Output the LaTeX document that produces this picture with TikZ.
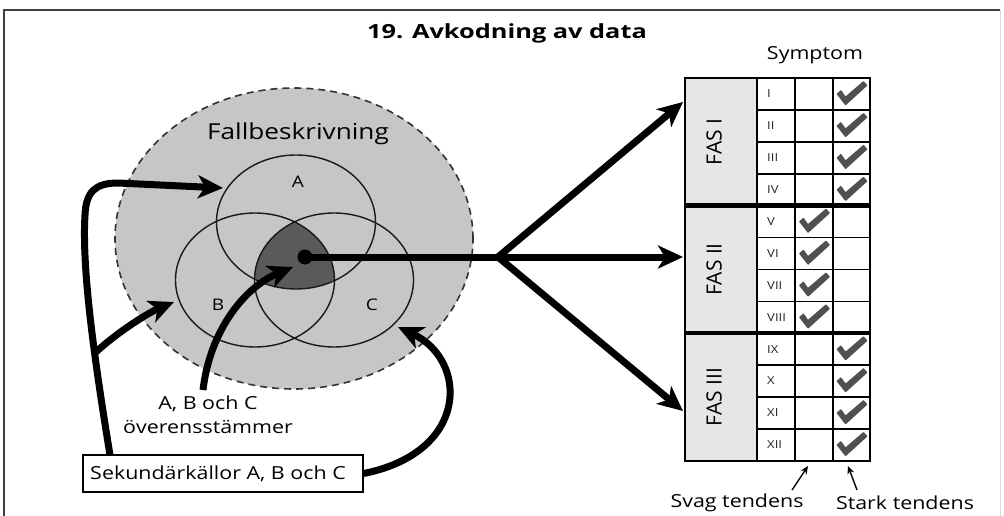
\documentclass[tikz,border=0pt]{standalone}
\usepackage{fontspec}
\setmainfont{Open Sans}
\usetikzlibrary{arrows.meta,calc,shapes.geometric}
\definecolor{bgell}{HTML}{C6C6C6}
\definecolor{darkreg}{HTML}{5A5A5A}
\definecolor{fascell}{HTML}{E6E6E6}
\definecolor{chkcol}{HTML}{505050}
\newcommand{\fs}[1]{\fontsize{#1}{#1}\selectfont}
\begin{document}
\begin{tikzpicture}[x=1pt,y=-1pt,
  txt/.style={inner sep=0pt,xscale=1.19},
  bigarrow/.style={line width=7pt,-{Stealth[length=25pt,width=23pt,inset=7pt]}},
  thinarrow/.style={line width=1.4pt,-{Stealth[length=8pt,width=7pt]}},
  venn/.style={ellipse,draw=black!90,line width=1.4pt,inner sep=0pt,minimum width=159pt,minimum height=134pt},
  grid/.style={draw=black,line width=1.6pt},
  chk/.pic={\fill[chkcol,rounded corners=0.6pt] (-15,0) -- (-10.5,-4) -- (-6,2.5) -- (12,-13) -- (16,-8.5) -- (-6,11.5) -- cycle;}]
\useasboundingbox (0,0) rectangle (1004,516);
\fill[white] (0,0) rectangle (1004,516);
% frame
\draw[line width=2pt,black!75] (4,520) -- (4,10) -- (1000,10);
\draw[line width=1pt,black!15] (1000,10) -- (1000,520);
% title
\node[inner sep=0pt,xscale=1.3,font=\bfseries\fs{19.5}] (title) at (507,33) {19. Avkodning av data};
% case description ellipse
\node[ellipse,fill=bgell,draw=black!80,line width=1.6pt,dash pattern=on 7pt off 5pt,inner sep=0pt,minimum width=358pt,minimum height=301pt] (fall) at (294,238.5) {};
\node[txt,font=\fs{22},anchor=base] (falltxt) at (298,140) {Fallbeskrivning};
% intersection
\begin{scope}
\clip (296,222) ellipse [x radius=79.5pt,y radius=67pt];
\clip (255,280) ellipse [x radius=79.5pt,y radius=67pt];
\fill[darkreg] (334,280) ellipse [x radius=79.5pt,y radius=67pt];
\end{scope}
\node[venn] (ellA) at (296,222) {};
\node[venn] (ellB) at (255,280) {};
\node[venn] (ellC) at (334,280) {};
\node[txt,font=\fs{16}] (labA) at (298,182) {A};
\node[txt,font=\fs{16}] (labB) at (218,305) {B};
\node[txt,font=\fs{16}] (labC) at (372,305) {C};
\node[circle,fill=black,minimum size=15pt,inner sep=0pt] (dot) at (305,257) {};
% fork arrows to table
\coordinate (fork) at (498,257);
\coordinate (t1) at (683,102);
\coordinate (t2) at (683,257);
\coordinate (t3) at (683,411);
\draw[line width=7pt] (dot.center) -- (fork);
\draw[bigarrow] (fork) -- (t1);
\draw[bigarrow] (fork) -- (t2);
\draw[bigarrow] (fork) -- (t3);
% secondary sources
\node[draw=black,line width=1.5pt,minimum width=280pt,minimum height=37pt,inner sep=0pt] (sek) at (223,473.5) {};
\node[txt,font=\fs{18}] (sektxt) at (218,474) {Sekundärkällor A, B och C};
\node[txt,font=\fs{18},align=center] (abc) at (208,415) {A, B och C\\[6pt]överensstämmer};
\coordinate (s1) at (110,455);
\coordinate (br) at (96,352);
\coordinate (tipA) at (223,188);
\coordinate (tipB) at (174,302);
\coordinate (m1) at (203,390);
\coordinate (tipM) at (293,267);
\coordinate (tipC) at (398,327);
\draw[bigarrow] (s1) .. controls (92,345) and (82,265) .. (85,215) .. controls (86,192) and (95,183) .. (118,183) -- (tipA);
\draw[bigarrow] (br) .. controls (120,330) and (150,312) .. (tipB);
\draw[bigarrow] (m1) .. controls (210,330) and (245,287) .. (tipM);
\draw[bigarrow] (sek.east) .. controls (470,452) and (468,360) .. (tipC);
% table
\def\tt{78}
\def\rh{31.9}
\foreach \i/\lab/\col in {1/I/4,2/II/4,3/III/4,4/IV/4,5/V/3,6/VI/3,7/VII/3,8/VIII/3,9/IX/4,10/X/4,11/XI/4,12/XII/4}{
  \pgfmathsetmacro\yc{\tt+(\i-0.5)*\rh}
  \node[txt,font=\fs{11},anchor=west,text=black!85] (num\i) at (767,\yc) {\lab};
  \ifnum\col=3 \pic at (814,\yc) {chk};\else \pic at (851.5,\yc) {chk};\fi
}
\foreach \k/\lab in {1/FAS I,2/FAS II,3/FAS III}{
  \pgfmathsetmacro\yc{\tt+(\k-1)*4*\rh+2*\rh}
  \node[fill=fascell,minimum width=72pt,minimum height=127.6pt,inner sep=0pt] (fas\k) at (721,\yc) {};
  \node[font=\fs{21},rotate=90,inner sep=0pt] (fastxt\k) at (714,\yc) {\lab};
}
% grid
\foreach \i in {1,2,3,5,6,7,9,10,11}{
  \draw[grid] (757,\tt+\i*\rh) -- (870,\tt+\i*\rh);
}
\foreach \x in {757,795,833}{
  \draw[grid] (\x,\tt) -- (\x,\tt+12*\rh);
}
\draw[line width=4.5pt] (685,\tt+4*\rh) -- (870,\tt+4*\rh);
\draw[line width=4.5pt] (685,\tt+8*\rh) -- (870,\tt+8*\rh);
\draw[line width=2pt] (685,\tt) rectangle (870,\tt+12*\rh);
% labels
\node[txt,font=\fs{18}] (symp) at (815,55) {Symptom};
\node[txt,font=\fs{18}] (svag) at (737,503) {Svag tendens};
\node[txt,font=\fs{18}] (stark) at (905,503) {Stark tendens};
\coordinate (sa1) at (792,490);
\coordinate (sa2) at (808,466);
\coordinate (sb1) at (857,490);
\coordinate (sb2) at (848,466);
\draw[thinarrow] (sa1) -- (sa2);
\draw[thinarrow] (sb1) -- (sb2);
\end{tikzpicture}
\end{document}
